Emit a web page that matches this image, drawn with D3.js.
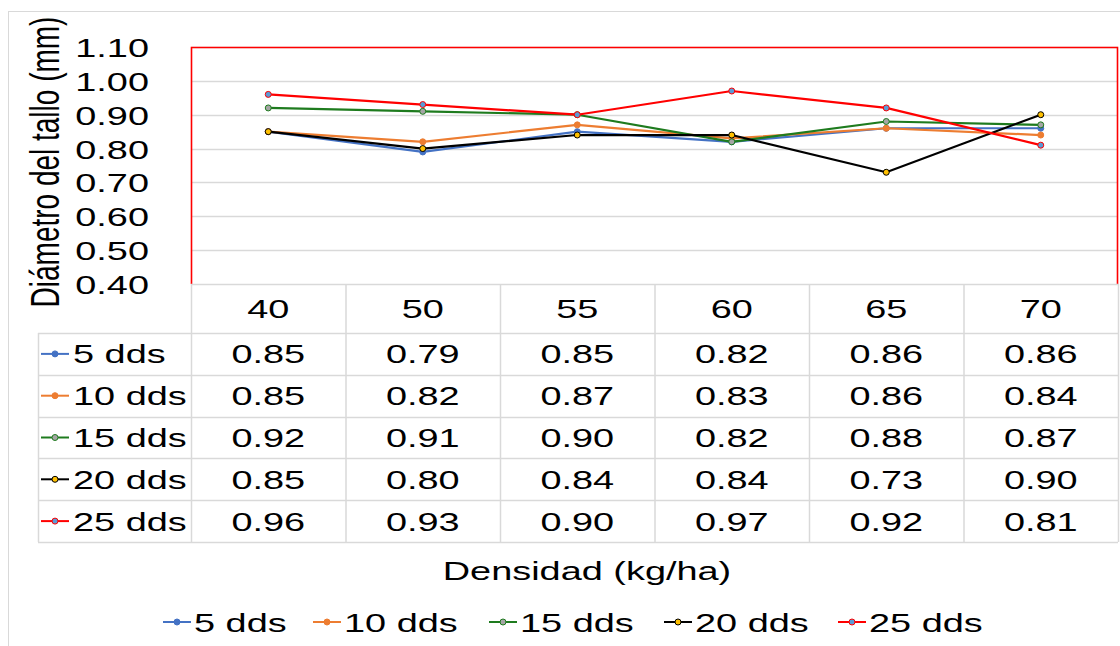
<!DOCTYPE html>
<html>
<head>
<meta charset="utf-8">
<script src="https://cdn.jsdelivr.net/npm/d3@7"></script>
<style>
  html, body { margin: 0; padding: 0; background: #fff; }
  svg { display: block; font-family: "Liberation Sans", Arial, sans-serif; }
</style>
</head>
<body>
<svg id="chart" width="1120" height="646"></svg>
<script>
// Densidad de siembra (kg/ha)
const categories = ["40", "50", "55", "60", "65", "70"];
// Diámetro del tallo (mm) por días después de siembra
const seriesNames = ["5 dds", "10 dds", "15 dds", "20 dds", "25 dds"];
const dds5  = [0.85, 0.79, 0.85, 0.82, 0.86, 0.86];
const dds10 = [0.85, 0.82, 0.87, 0.83, 0.86, 0.84];
const dds15 = [0.92, 0.91, 0.90, 0.82, 0.88, 0.87];
const dds20 = [0.85, 0.80, 0.84, 0.84, 0.73, 0.90];
const dds25 = [0.96, 0.93, 0.90, 0.97, 0.92, 0.81];
const yTicks = [0.40, 0.50, 0.60, 0.70, 0.80, 0.90, 1.00, 1.10];

const seriesValues = [dds5, dds10, dds15, dds20, dds25];
const lineColors   = ["#4472C4", "#ED7D31", "#1E7B1E", "#000000", "#FF0000"];
const markerFill   = ["#4472C4", "#ED7D31", "#A5A5A5", "#FFC000", "#5B9BD5"];
const markerStroke = ["#4472C4", "#ED7D31", "#1E7B1E", "#000000", "#FF0000"];

const series = seriesNames.map((name, i) => ({
  name, values: seriesValues[i], color: lineColors[i],
  fill: markerFill[i], stroke: markerStroke[i]
}));

const FS = 26.5;       // font size
const SX = 1.43;       // horizontal glyph stretch
const GRID = "#D9D9D9";

const svg = d3.select("#chart");

// outer chart frame
svg.append("rect")
  .attr("x", 8.5).attr("y", 11.5).attr("width", 1130).attr("height", 660)
  .attr("fill", "#fff").attr("stroke", GRID).attr("stroke-width", 1);

const plot = { left: 191, right: 1118, top: 47, bottom: 284 };
const tableRows = { header: 284, first: 333, rowH: 41.8 };
const tableLeft = 38;

const x = d3.scaleBand().domain(categories).range([plot.left, plot.right]).padding(0);
const y = d3.scaleLinear().domain([0.4, 1.1]).range([plot.bottom, plot.top]);

function stretchedText(parent, tx, ty, str, anchor, size) {
  const fs = size || FS;
  const g = parent.append("g").attr("transform", `translate(${tx},${ty}) scale(${SX},1)`);
  g.append("text")
    .attr("text-anchor", anchor || "middle")
    .attr("y", 0.36 * fs)
    .attr("font-size", fs)
    .attr("fill", "#000")
    .text(str);
  return g;
}

// horizontal gridlines
svg.append("g").selectAll("line")
  .data(yTicks.slice(1))
  .join("line")
  .attr("x1", plot.left).attr("x2", plot.right)
  .attr("y1", d => Math.round(y(d)) + 0.5).attr("y2", d => Math.round(y(d)) + 0.5)
  .attr("stroke", GRID).attr("stroke-width", 1.5);

// y axis labels
const yAxis = d3.axisLeft(y).tickValues(yTicks).tickFormat(d3.format(".2f")).tickSize(0);
const yg = svg.append("g").attr("transform", `translate(149,0)`).call(yAxis);
yg.select(".domain").remove();
yg.selectAll(".tick text")
  .attr("x", 0).attr("dy", null).attr("y", 0.36 * FS)
  .attr("font-size", FS).attr("font-family", "Liberation Sans, Arial, sans-serif")
  .attr("fill", "#000")
  .attr("transform", `scale(${SX},1)`);

// plot area border
svg.append("path")
  .attr("d", `M${plot.left + 0.5},${plot.bottom} V${plot.top + 0.5} H${plot.right - 0.5} V${plot.bottom}`)
  .attr("fill", "none").attr("stroke", "#FF0000").attr("stroke-width", 1.6);

// y axis title
svg.append("g")
  .attr("transform", `translate(45,162) rotate(-90) scale(1,${SX})`)
  .append("text")
  .attr("text-anchor", "middle")
  .attr("y", 0.36 * 28)
  .attr("font-size", 28)
  .attr("fill", "#000")
  .text("Diámetro del tallo (mm)");

// data table grid
const tableBottom = tableRows.first + tableRows.rowH * series.length;
const tg = svg.append("g").attr("stroke", GRID).attr("stroke-width", 1.5);
tg.append("line").attr("x1", plot.left).attr("x2", plot.right)
  .attr("y1", tableRows.header + 0.5).attr("y2", tableRows.header + 0.5);
d3.range(series.length + 1).forEach(i => {
  const yy = Math.round(tableRows.first + i * tableRows.rowH) + 0.5;
  tg.append("line").attr("x1", tableLeft).attr("x2", plot.right).attr("y1", yy).attr("y2", yy);
});
tg.append("line").attr("x1", tableLeft + 0.5).attr("x2", tableLeft + 0.5)
  .attr("y1", tableRows.first).attr("y2", tableBottom);
categories.concat(["_end"]).forEach((c, i) => {
  const xx = i < categories.length ? x(c) : plot.right;
  tg.append("line").attr("x1", xx + 0.5).attr("x2", xx + 0.5)
    .attr("y1", tableRows.header).attr("y2", tableBottom);
});

// category header row
categories.forEach(c => {
  stretchedText(svg, x(c) + x.bandwidth() / 2, (tableRows.header + tableRows.first) / 2, c, "middle");
});

function legendSymbol(parent, x0, cy, s) {
  parent.append("line").attr("x1", x0).attr("x2", x0 + 28)
    .attr("y1", cy).attr("y2", cy).attr("stroke", s.color).attr("stroke-width", 2);
  parent.append("circle").attr("cx", x0 + 14).attr("cy", cy).attr("r", 3)
    .attr("fill", s.fill).attr("stroke", s.stroke).attr("stroke-width", 1);
}

// table body rows
series.forEach((s, i) => {
  const cy = tableRows.first + (i + 0.5) * tableRows.rowH;
  legendSymbol(svg, 41, cy, s);
  stretchedText(svg, 73, cy, s.name, "start");
  s.values.forEach((v, j) => {
    stretchedText(svg, x(categories[j]) + x.bandwidth() / 2, cy, d3.format(".2f")(v), "middle");
  });
});

// x axis title
stretchedText(svg, 587, 570, "Densidad (kg/ha)", "middle");

// series lines and markers
const line = d3.line()
  .x((d, j) => x(categories[j]) + x.bandwidth() / 2)
  .y(d => y(d));
const lg = svg.append("g");
series.forEach(s => {
  lg.append("path").datum(s.values)
    .attr("d", line).attr("fill", "none")
    .attr("stroke", s.color).attr("stroke-width", 2.2)
    .attr("stroke-linejoin", "round");
  lg.selectAll(null).data(s.values).join("circle")
    .attr("cx", (d, j) => x(categories[j]) + x.bandwidth() / 2)
    .attr("cy", d => y(d)).attr("r", 3)
    .attr("fill", s.fill).attr("stroke", s.stroke).attr("stroke-width", 1);
});

// bottom legend
const legendX = [163, 313, 489, 664, 838];
series.forEach((s, i) => {
  legendSymbol(svg, legendX[i], 622, s);
  stretchedText(svg, legendX[i] + 31, 622, s.name, "start");
});
</script>
</body>
</html>
